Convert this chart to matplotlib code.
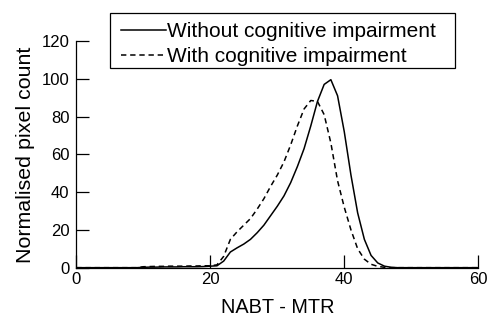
import numpy as np
import matplotlib
matplotlib.use("Agg")
import matplotlib.pyplot as plt
from matplotlib.patches import Rectangle

plt.rcParams['font.family'] = ['Liberation Sans', 'DejaVu Sans']

# NABT - MTR values
x = list(range(0, 61))

# without cognitive impairment (solid)
without_ci = [0, 0, 0, 0, 0, 0, 0, 0, 0, 0,
              0.2, 0.3, 0.3, 0.4, 0.4, 0.4, 0.5, 0.5, 0.5, 0.6,
              0.8, 1.0, 3.5, 8.3, 10.5, 12.5, 15, 18.5, 22.5, 27.5,
              32.5, 38, 45, 53.5, 63, 75, 88, 97, 99.5, 91,
              72, 49, 29, 15, 6.5, 2.5, 0.8, 0.2, 0, 0,
              0, 0, 0, 0, 0, 0, 0, 0, 0, 0, 0]

# with cognitive impairment (dashed)
with_ci = [0, 0, 0, 0, 0, 0, 0, 0, 0, 0,
           0.5, 0.6, 0.7, 0.7, 0.8, 0.8, 0.8, 0.9, 0.9, 1.0,
           1.0, 1.5, 6, 15, 19, 22.5, 26, 31, 36.5, 43,
           49, 56, 65, 75, 84, 88.5, 88, 81, 66, 46,
           32, 20, 10, 4.5, 1.8, 0.7, 0.2, 0, 0, 0,
           0, 0, 0, 0, 0, 0, 0, 0, 0, 0, 0]

fig = plt.figure(figsize=(4.87, 3.20), dpi=100)
ax = fig.add_axes([0.1567, 0.1635, 0.8253, 0.7085])

ax.plot(x, without_ci, color='black', lw=1.1, label='Without cognitive impairment')
ax.plot(x, with_ci, color='black', lw=1.1, dashes=(3.5, 2.5), label='With cognitive impairment')

ax.set_xlim(0, 60)
ax.set_ylim(0, 120)
ax.set_xticks([0, 20, 40, 60])
ax.set_yticks([0, 20, 40, 60, 80, 100, 120])

ax.spines['top'].set_visible(False)
ax.spines['right'].set_visible(False)
for s in ('left', 'bottom'):
    ax.spines[s].set_linewidth(0.9)

ax.tick_params(axis='x', direction='in', length=9.5, width=0.9, pad=3, labelsize=12)
ax.tick_params(axis='y', direction='in', length=9.5, width=0.9, pad=5, labelsize=12)

ax.set_xlabel('NABT - MTR', fontsize=14.3, labelpad=8)
ax.set_ylabel('Normalised pixel count', fontsize=15.4, labelpad=5)

# legend without its own frame, box drawn separately (extra room on the right)
leg = fig.legend(loc='upper left', bbox_to_anchor=(121 / 487, 1 - 22 / 320),
                 bbox_transform=fig.transFigure, fontsize=15, frameon=False,
                 handlelength=2.15, handletextpad=0.08, borderaxespad=0,
                 labelspacing=0.3, borderpad=0)
box = Rectangle((110 / 487, 1 - 68 / 320), 345 / 487, 55 / 320,
                transform=fig.transFigure, fill=False, lw=0.9, ec='black')
fig.add_artist(box)

fig.savefig('out.png', dpi=100)
